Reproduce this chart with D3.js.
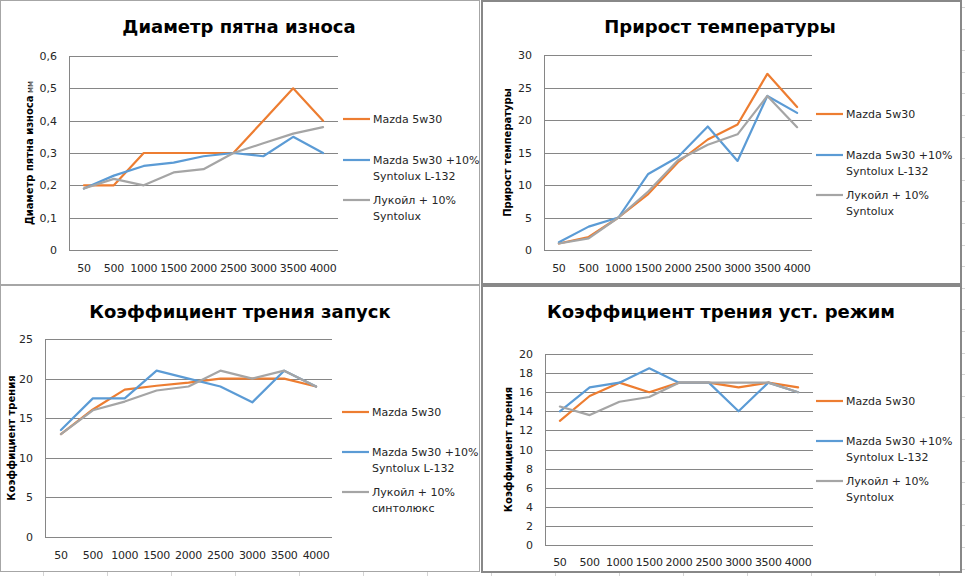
<!DOCTYPE html>
<html><head><meta charset="utf-8">
<script src="https://cdn.jsdelivr.net/npm/d3@7"></script>
<style>
html,body{margin:0;padding:0;background:#fff;}
svg{display:block;font-family:"DejaVu Sans",Verdana,sans-serif;}
</style></head>
<body><svg id="c" width="965" height="576"></svg>
<script>
// ---------- data ----------
const categories = ["50","500","1000","1500","2000","2500","3000","3500","4000"];
const seriesNames = ["Mazda 5w30", "Mazda 5w30 +10% Syntolux L-132", "Лукойл + 10% Syntolux"];
const seriesColors = ["#ED7D31", "#5B9BD5", "#A5A5A5"];

// Диаметр пятна износа, мм
const wearMazda    = [0.20, 0.20, 0.30, 0.30, 0.30, 0.30, 0.40, 0.50, 0.40];
const wearSyntolux = [0.19, 0.23, 0.26, 0.27, 0.29, 0.30, 0.29, 0.35, 0.30];
const wearLukoil   = [0.19, 0.22, 0.20, 0.24, 0.25, 0.30, 0.33, 0.36, 0.38];
const wearTicks    = [0, 0.1, 0.2, 0.3, 0.4, 0.5, 0.6];

// Прирост температуры
const tempMazda    = [1.0, 2.0, 5.0, 8.6, 13.5, 17.0, 19.3, 27.1, 22.0];
const tempSyntolux = [1.2, 3.6, 5.0, 11.7, 14.3, 19.0, 13.7, 23.7, 21.1];
const tempLukoil   = [1.0, 1.8, 5.0, 9.0, 13.8, 16.2, 17.8, 23.7, 18.9];
const tempTicks    = [0, 5, 10, 15, 20, 25, 30];

// Коэффициент трения запуск
const startMazda    = [13.0, 16.1, 18.6, 19.1, 19.5, 20.0, 20.0, 20.0, 19.0];
const startSyntolux = [13.5, 17.5, 17.5, 21.0, 20.0, 19.0, 17.0, 21.0, 19.0];
const startLukoil   = [13.0, 16.0, 17.1, 18.5, 19.0, 21.0, 20.0, 21.0, 19.0];
const startTicks    = [0, 5, 10, 15, 20, 25];

// Коэффициент трения уст. режим
const steadyMazda    = [13.0, 15.6, 17.0, 16.0, 17.0, 17.0, 16.5, 17.0, 16.5];
const steadySyntolux = [14.0, 16.5, 17.0, 18.5, 17.0, 17.0, 14.0, 17.0, 16.0];
const steadyLukoil   = [14.5, 13.6, 15.0, 15.5, 17.0, 17.0, 17.0, 17.0, 16.0];
const steadyTicks    = [0, 2, 4, 6, 8, 10, 12, 14, 16, 18, 20];

// ---------- layout ----------
const svg = d3.select("#c");

// spreadsheet cell grid peeking around the charts
const colLines = d3.range(0, 15).map(k => 43 + 64 * k);
svg.selectAll("line.col").data(colLines).join("line")
  .attr("x1", d => d + 0.5).attr("x2", d => d + 0.5).attr("y1", 572).attr("y2", 576)
  .attr("stroke", "#d4d4d4");
const rowLines = d3.range(0, 28).map(k => 7 + 21.6 * k);
svg.selectAll("line.row").data(rowLines).join("line")
  .attr("x1", 962).attr("x2", 965).attr("y1", d => Math.round(d) + 0.5).attr("y2", d => Math.round(d) + 0.5)
  .attr("stroke", "#d4d4d4");

const panels = [
  { title: "Диаметр пятна износа", ytitle: "Диаметр пятна износа", yunit: "мм",
    data: [wearMazda, wearSyntolux, wearLukoil], ticks: wearTicks, fmt: d => String(d).replace(".", ","),
    legendNames: ["Mazda 5w30", ["Mazda 5w30 +10%", "Syntolux L-132"], ["Лукойл + 10%", "Syntolux"]],
    frame: [0.5, 0.5, 479, 284, 1, "#a6a6a6"],
    plot: { l: 69, r: 338, t: 56, b: 250 }, titleX: 239, titleY: 33, ytX: 33, legendX: 343, legendY: [119, 160, 200], xLabY: 272 },
  { title: "Прирост температуры", ytitle: "Прирост температуры",
    data: [tempMazda, tempSyntolux, tempLukoil], ticks: tempTicks, fmt: d => String(d),
    legendNames: ["Mazda 5w30", ["Mazda 5w30 +10%", "Syntolux L-132"], ["Лукойл + 10%", "Syntolux"]],
    frame: [482, 1, 479, 283, 2, "#888888"],
    plot: { l: 544, r: 812, t: 55, b: 250 }, titleX: 720, titleY: 33, ytX: 511, legendX: 816, legendY: [114, 155, 195], xLabY: 272 },
  { title: "Коэффициент трения запуск", ytitle: "Коэффициент трения",
    data: [startMazda, startSyntolux, startLukoil], ticks: startTicks, fmt: d => String(d),
    legendNames: ["Mazda 5w30", ["Mazda 5w30 +10%", "Syntolux L-132"], ["Лукойл + 10%", "синтолюкс"]],
    frame: [0.5, 285.5, 479, 286, 1, "#a6a6a6"],
    plot: { l: 45, r: 332, t: 339, b: 537 }, titleX: 240, titleY: 318, ytX: 15, legendX: 342, legendY: [412, 452, 492], xLabY: 559 },
  { title: "Коэффициент трения уст. режим", ytitle: "Коэффициент трения",
    data: [steadyMazda, steadySyntolux, steadyLukoil], ticks: steadyTicks, fmt: d => String(d),
    legendNames: ["Mazda 5w30", ["Mazda 5w30 +10%", "Syntolux L-132"], ["Лукойл + 10%", "Syntolux"]],
    frame: [482, 286, 479, 286, 2, "#888888"],
    plot: { l: 545, r: 813, t: 354, b: 545 }, titleX: 721, titleY: 318, ytX: 512, legendX: 816, legendY: [401, 441, 481], xLabY: 566 }
];

panels.forEach(p => {
  const g = svg.append("g");
  const [fx, fy, fw, fh, sw, sc] = p.frame;
  g.append("rect").attr("x", fx).attr("y", fy).attr("width", fw).attr("height", fh)
    .attr("fill", "#fff").attr("stroke", sc).attr("stroke-width", sw);

  const x = d3.scaleBand().domain(categories).range([p.plot.l, p.plot.r]);
  const y = d3.scaleLinear().domain([0, d3.max(p.ticks)]).range([p.plot.b, p.plot.t]);

  // gridlines
  g.selectAll("line.grid").data(p.ticks).join("line")
    .attr("x1", p.plot.l).attr("x2", p.plot.r)
    .attr("y1", d => Math.round(y(d)) + 0.5).attr("y2", d => Math.round(y(d)) + 0.5)
    .attr("stroke", "#868686").attr("stroke-width", 1);
  // vertical axis line
  g.append("line").attr("x1", p.plot.l + 0.5).attr("x2", p.plot.l + 0.5)
    .attr("y1", Math.round(y(d3.max(p.ticks))) + 0.5).attr("y2", Math.round(y(0)) + 0.5)
    .attr("stroke", "#868686");

  // y tick labels
  g.selectAll("text.yt").data(p.ticks).join("text")
    .attr("x", p.plot.l - 12).attr("y", d => y(d) + 4)
    .attr("text-anchor", "end").attr("font-size", 11).attr("fill", "#262626")
    .text(p.fmt);
  // x tick labels
  g.selectAll("text.xt").data(categories).join("text")
    .attr("x", d => x(d) + x.bandwidth() / 2).attr("y", p.xLabY)
    .attr("text-anchor", "middle").attr("font-size", 11).attr("fill", "#262626")
    .attr("letter-spacing", -0.3)
    .text(d => d);

  // title
  g.append("text").attr("x", p.titleX).attr("y", p.titleY).attr("text-anchor", "middle")
    .attr("font-size", 18).attr("font-weight", "bold").attr("fill", "#000").text(p.title);

  // y axis title
  const yc = (p.plot.t + p.plot.b) / 2;
  const yt = g.append("text").attr("transform", `translate(${p.ytX},${yc}) rotate(-90)`)
    .attr("text-anchor", "middle").attr("font-size", 10).attr("font-weight", "bold").attr("fill", "#000");
  yt.append("tspan").text(p.ytitle);
  if (p.yunit) yt.append("tspan").attr("font-weight", "normal").attr("font-size", 8).text(" " + p.yunit);

  // lines
  const line = d3.line().x((d, i) => x(categories[i]) + x.bandwidth() / 2).y(d => y(d));
  p.data.forEach((s, i) => {
    g.append("path").datum(s).attr("d", line).attr("fill", "none")
      .attr("stroke", seriesColors[i]).attr("stroke-width", 2.2)
      .attr("stroke-linejoin", "round").attr("stroke-linecap", "round");
  });

  // legend
  p.legendNames.forEach((nm, i) => {
    const ly = p.legendY[i];
    g.append("line").attr("x1", p.legendX).attr("x2", p.legendX + 27).attr("y1", ly).attr("y2", ly)
      .attr("stroke", seriesColors[i]).attr("stroke-width", 2.2);
    const lines = Array.isArray(nm) ? nm : [nm];
    const t = g.append("text").attr("font-size", 11).attr("fill", "#262626");
    lines.forEach((ln, k) => {
      t.append("tspan").attr("x", p.legendX + 30).attr("y", ly + 4 + k * 16).text(ln);
    });
  });
});
</script>
</body></html>
